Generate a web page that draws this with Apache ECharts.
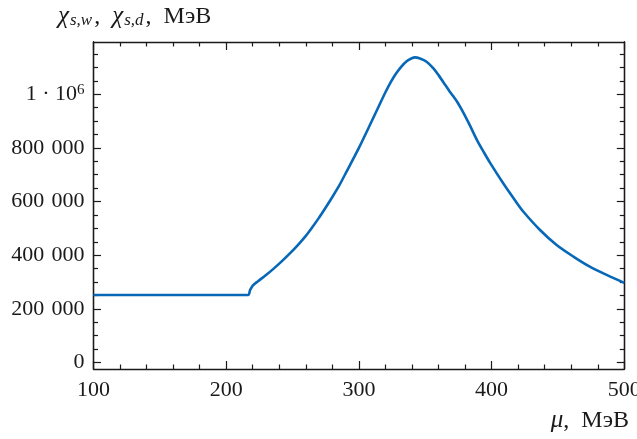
<!DOCTYPE html>
<html><head><meta charset="utf-8">
<script src="https://cdn.jsdelivr.net/npm/echarts@6/dist/echarts.min.js"></script>
<style>html,body{margin:0;padding:0;background:#fff}#c{width:637px;height:439px}</style>
</head><body><div id="c"></div>
<script>
const muValues = [100, 150, 216.5, 218, 220, 224, 230, 236, 242, 248, 254, 260, 265, 270, 275, 280, 285, 290, 300, 310, 320, 324, 328, 332, 336, 339.5, 342.3, 346, 351, 356, 360, 365, 368, 371, 374, 378, 383, 389, 394, 399, 409, 418, 424, 436.5, 449, 461.6, 474, 486.7, 500];
const chiValues = [252000, 252000, 252000, 270000, 287000, 303000, 326000, 351000, 378000, 407000, 438000, 472000, 505000, 540000, 578000, 617000, 658000, 705000, 800000, 903000, 1007000, 1045000, 1077000, 1103000, 1123000, 1133000, 1137000, 1133000, 1121000, 1097000, 1071000, 1035000, 1013000, 993000, 972000, 938000, 890000, 829000, 785000, 743000, 666000, 602000, 562000, 494000, 438000, 395000, 357500, 326600, 297000];
const yMajorTicks = [0, 200000, 400000, 600000, 800000, 1000000];
const yMinorTicks = [50000, 100000, 150000, 250000, 300000, 350000, 450000, 500000, 550000, 650000, 700000, 750000, 850000, 900000, 950000, 1050000, 1100000, 1150000];
const xMin = 100, xMax = 500, xStep = 100;
const yMin = -24000, yMax = 1194400;

const ink = '#1a1a1a';
const font = '"Liberation Serif", "DejaVu Serif", serif';
const lineColor = '#0868b8';

function fmt(v) {
  if (v === 1000000) return '{n|1 · 10}{sup|6}';
  return String(v).replace(/\B(?=(\d{3})+(?!\d))/g, '\u2004');
}

const axisLine = { show: true, onZero: false, lineStyle: { color: ink, width: 1.3 } };
function yAx(pos, ticks, len, labels) {
  return {
    type: 'value', position: pos, min: yMin, max: yMax, offset: 0,
    axisLine: axisLine,
    splitLine: { show: false },
    axisTick: { show: true, inside: true, length: len, customValues: ticks, lineStyle: { color: ink, width: 1.2 } },
    axisLabel: labels ? {
      show: true, customValues: ticks, formatter: fmt, margin: 9,
      color: ink, fontFamily: font, fontSize: 22,
      rich: {
        n: { fontFamily: font, fontSize: 22, color: ink },
        sup: { fontFamily: font, fontSize: 15, color: ink, verticalAlign: 'top', padding: [0, 0, 8, 0] }
      }
    } : { show: false }
  };
}
function xAx(pos, labels) {
  return {
    type: 'value', position: pos, min: xMin, max: xMax, interval: xStep,
    axisLine: axisLine,
    splitLine: { show: false },
    axisTick: { show: true, inside: true, length: 8, lineStyle: { color: ink, width: 1.2 } },
    minorTick: { show: true, splitNumber: 5, length: 4.5, lineStyle: { color: ink, width: 1.2 } },
    axisLabel: labels ? { show: true, margin: 10, color: ink, fontFamily: font, fontSize: 22 } : { show: false }
  };
}

const chart = echarts.init(document.getElementById('c'), null, { renderer: 'canvas' });
chart.setOption({
  animation: false,
  backgroundColor: '#fff',
  grid: { left: 93.5, right: 12.7, top: 42, bottom: 70, containLabel: false, outerBoundsMode: 'none' },
  xAxis: [xAx('bottom', true), xAx('top', false)],
  yAxis: [
    yAx('left', yMajorTicks, 7.5, true),
    yAx('left', yMinorTicks, 4.5, false),
    yAx('right', yMajorTicks, 7.5, false),
    yAx('right', yMinorTicks, 4.5, false)
  ],
  series: [{
    type: 'line', xAxisIndex: 0, yAxisIndex: 0,
    data: muValues.map((m, i) => [m, chiValues[i]]),
    showSymbol: false, smooth: 0.3,
    lineStyle: { color: lineColor, width: 2.6 },
    clip: true
  }],
  graphic: [
    {
      type: 'text', left: 58, top: 4,
      style: {
        text: '{i|χ}{sub|s,w}{n|,  }{i|χ}{sub|s,d}{n|,  МэВ}',
        rich: {
          i: { fontFamily: font, fontStyle: 'italic', fontSize: 25, fill: ink, padding: [0, 1, 0, 0] },
          n: { fontFamily: font, fontSize: 24, fill: ink },
          sub: { fontFamily: font, fontStyle: 'italic', fontSize: 17, fill: ink, verticalAlign: 'bottom', padding: [9, 2, 0, 0] }
        }
      }
    },
    {
      type: 'text', right: 8, top: 408,
      style: {
        text: '{i|μ}{n|,  МэВ}',
        rich: {
          i: { fontFamily: font, fontStyle: 'italic', fontSize: 25, fill: ink },
          n: { fontFamily: font, fontSize: 24, fill: ink }
        }
      }
    }
  ]
});
</script></body></html>
